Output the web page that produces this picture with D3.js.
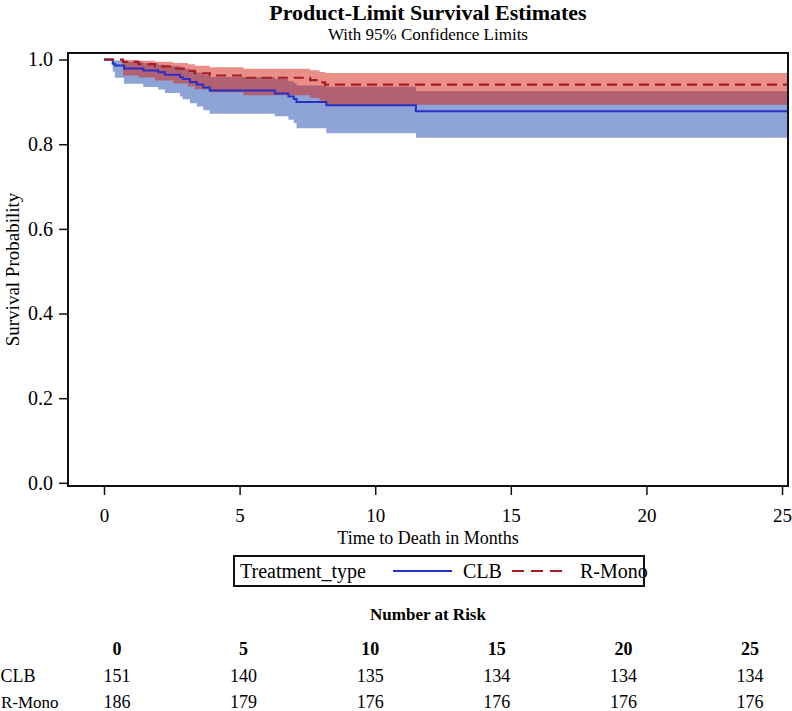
<!DOCTYPE html>
<html>
<head>
<meta charset="utf-8">
<script src="https://cdn.jsdelivr.net/npm/d3@7"></script>
<style>
  html, body { margin: 0; padding: 0; background: #fff; }
  svg text { font-family: "Liberation Serif", "Times New Roman", serif; fill: #000; }
</style>
</head>
<body>
<svg id="chart" width="792" height="711"></svg>
<script>
// ---- Data ----
const groups = ["CLB", "R-Mono"];

// CLB Kaplan-Meier steps
const clbTime  = [0, 0.32, 0.40, 0.74, 1.45, 2.00, 2.25, 2.80, 2.90, 3.17, 3.42, 3.66, 3.90, 6.30, 6.80, 7.00, 7.10, 8.20, 11.50, 25.2];
const clbSurv  = [1, 0.990, 0.986, 0.979, 0.974, 0.970, 0.964, 0.959, 0.954, 0.947, 0.941, 0.934, 0.927, 0.920, 0.913, 0.907, 0.900, 0.892, 0.878, 0.878];
const clbLower = [1, 0.972, 0.957, 0.943, 0.935, 0.929, 0.921, 0.913, 0.906, 0.897, 0.889, 0.880, 0.872, 0.866, 0.858, 0.850, 0.838, 0.826, 0.815, 0.815];
const clbUpper = [1, 0.999, 0.998, 0.995, 0.991, 0.988, 0.985, 0.981, 0.978, 0.973, 0.969, 0.964, 0.959, 0.954, 0.949, 0.944, 0.939, 0.936, 0.925, 0.925];

// R-Mono Kaplan-Meier steps
const rmTime  = [0, 0.70, 1.27, 1.88, 2.56, 3.10, 3.35, 3.90, 5.14, 7.60, 7.95, 8.15, 25.2];
const rmSurv  = [1, 0.9946, 0.9892, 0.9839, 0.9785, 0.9731, 0.9677, 0.9624, 0.9570, 0.9516, 0.9462, 0.9409, 0.9409];
const rmLower = [1, 0.9625, 0.9577, 0.9508, 0.9437, 0.9366, 0.9296, 0.9227, 0.9158, 0.9091, 0.9024, 0.893, 0.893];
const rmUpper = [1, 0.9992, 0.9973, 0.9948, 0.9919, 0.9887, 0.9854, 0.9819, 0.9783, 0.9745, 0.9707, 0.968, 0.968];

// Axis ticks
const xTicks = [0, 5, 10, 15, 20, 25];
const yTicks = [0.0, 0.2, 0.4, 0.6, 0.8, 1.0];

// Number at risk
const riskTimes = [0, 5, 10, 15, 20, 25];
const riskCLB   = [151, 140, 135, 134, 134, 134];
const riskRMono = [186, 179, 176, 176, 176, 176];

// ---- Layout ----
const svg = d3.select("#chart");
const frame = { left: 68, right: 788, top: 53, bottom: 486 };

const x = d3.scaleLinear().domain([-1.327, 25.22]).range([frame.left, frame.right]);
const y = d3.scaleLinear().domain([-0.0075, 1.0155]).range([frame.bottom, frame.top]);

const colors = {
  clbLine: "#2a2fc4",
  clbBand: "#8ea3d6",
  rmLine: "#a51d24",
  rmBand: "rgb(212,32,16)"
};

const toRows = (t, s, lo, hi) => t.map((d, i) => ({ t: d, s: s[i], lo: lo[i], hi: hi[i] }));
const clb = toRows(clbTime, clbSurv, clbLower, clbUpper);
const rm  = toRows(rmTime, rmSurv, rmLower, rmUpper);

svg.append("defs").append("clipPath").attr("id", "plotclip")
  .append("rect")
  .attr("x", frame.left).attr("y", frame.top)
  .attr("width", frame.right - frame.left).attr("height", frame.bottom - frame.top);

const area = d3.area().curve(d3.curveStepAfter)
  .x(d => x(d.t)).y0(d => y(d.lo)).y1(d => y(d.hi));
const line = d3.line().curve(d3.curveStepAfter)
  .x(d => x(d.t)).y(d => y(d.s));

const plot = svg.append("g").attr("clip-path", "url(#plotclip)");
plot.append("path").datum(clb).attr("d", area).attr("fill", colors.clbBand);
plot.append("path").datum(rm).attr("d", area).attr("fill", colors.rmBand).attr("fill-opacity", 0.5);
plot.append("path").datum(clb).attr("d", line).attr("fill", "none")
  .attr("stroke", colors.clbLine).attr("stroke-width", 2);
plot.append("path").datum(rm).attr("d", line).attr("fill", "none")
  .attr("stroke", colors.rmLine).attr("stroke-width", 2.2).attr("stroke-dasharray", "10,6");

// Frame
svg.append("rect")
  .attr("x", frame.left).attr("y", frame.top)
  .attr("width", frame.right - frame.left).attr("height", frame.bottom - frame.top)
  .attr("fill", "none").attr("stroke", "#111").attr("stroke-width", 2);

// Y axis
const yAxis = d3.axisLeft(y).tickValues(yTicks).tickFormat(d3.format(".1f")).tickSize(9).tickPadding(6);
const gy = svg.append("g").attr("transform", `translate(${frame.left},0)`).call(yAxis);
gy.select(".domain").remove();
gy.selectAll(".tick line").attr("stroke", "#111").attr("stroke-width", 1.5);
gy.selectAll(".tick text").attr("font-size", 20).attr("font-family", "Liberation Serif");

// X axis
const xAxis = d3.axisBottom(x).tickValues(xTicks).tickSize(9).tickPadding(14);
const gx = svg.append("g").attr("transform", `translate(0,${frame.bottom})`).call(xAxis);
gx.select(".domain").remove();
gx.selectAll(".tick line").attr("stroke", "#111").attr("stroke-width", 1.5);
gx.selectAll(".tick text").attr("font-size", 19).attr("font-family", "Liberation Serif");

// Titles
const cx = (frame.left + frame.right) / 2;
svg.append("text").attr("x", cx).attr("y", 20).attr("text-anchor", "middle")
  .attr("font-size", 22).attr("font-weight", "bold").text("Product-Limit Survival Estimates");
svg.append("text").attr("x", cx).attr("y", 40).attr("text-anchor", "middle")
  .attr("font-size", 17).text("With 95% Confidence Limits");
svg.append("text").attr("x", cx).attr("y", 544).attr("text-anchor", "middle")
  .attr("font-size", 18).text("Time to Death in Months");
svg.append("text")
  .attr("transform", `translate(19,${(frame.top + frame.bottom) / 2}) rotate(-90)`)
  .attr("text-anchor", "middle").attr("font-size", 19).text("Survival Probability");

// Legend
const lg = svg.append("g");
const lgBox = { x: 234, y: 556, w: 410, h: 30 };
lg.append("rect").attr("x", lgBox.x).attr("y", lgBox.y).attr("width", lgBox.w).attr("height", lgBox.h)
  .attr("fill", "#fff").attr("stroke", "#111").attr("stroke-width", 2);
const lgY = lgBox.y + lgBox.h / 2;
lg.append("text").attr("x", 240).attr("y", lgY).attr("dy", "0.35em").attr("font-size", 20).text("Treatment_type");
lg.append("line").attr("x1", 393).attr("x2", 452).attr("y1", lgY).attr("y2", lgY)
  .attr("stroke", colors.clbLine).attr("stroke-width", 2);
lg.append("text").attr("x", 463).attr("y", lgY).attr("dy", "0.35em").attr("font-size", 20).text(groups[0]);
lg.append("line").attr("x1", 512).attr("x2", 564).attr("y1", lgY).attr("y2", lgY)
  .attr("stroke", colors.rmLine).attr("stroke-width", 2.2).attr("stroke-dasharray", "12,7");
lg.append("text").attr("x", 580).attr("y", lgY).attr("dy", "0.35em").attr("font-size", 20).text(groups[1]);

// Number at risk table
const tx = d3.scaleLinear().domain([0, 25]).range([117, 750]);
svg.append("text").attr("x", cx).attr("y", 620).attr("text-anchor", "middle")
  .attr("font-size", 17).attr("font-weight", "bold").text("Number at Risk");
svg.selectAll(".rhead").data(riskTimes).enter().append("text")
  .attr("x", d => tx(d)).attr("y", 655).attr("text-anchor", "middle")
  .attr("font-size", 18).attr("font-weight", "bold").text(d => d);
svg.append("text").attr("x", 18).attr("y", 682).attr("text-anchor", "middle").attr("font-size", 18).text(groups[0]);
svg.append("text").attr("x", 1).attr("y", 708).attr("text-anchor", "start").attr("font-size", 17).text(groups[1]);
svg.selectAll(".rclb").data(riskCLB).enter().append("text")
  .attr("x", (d, i) => tx(riskTimes[i])).attr("y", 682).attr("text-anchor", "middle")
  .attr("font-size", 18).text(d => d);
svg.selectAll(".rrm").data(riskRMono).enter().append("text")
  .attr("x", (d, i) => tx(riskTimes[i])).attr("y", 708).attr("text-anchor", "middle")
  .attr("font-size", 18).text(d => d);
</script>
</body>
</html>
